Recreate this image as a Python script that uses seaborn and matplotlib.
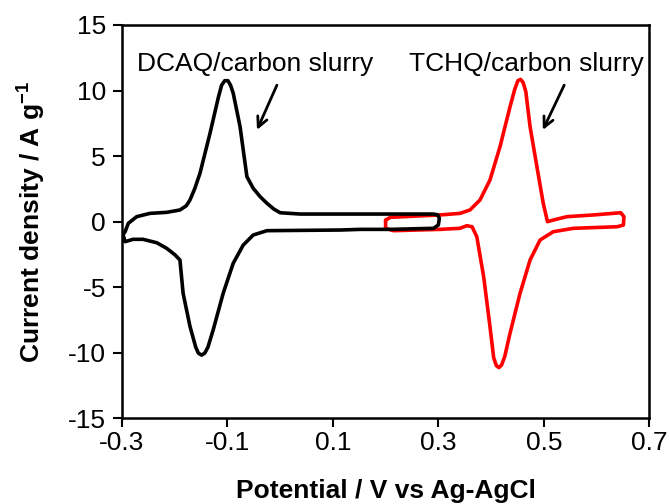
import numpy as np
import pandas as pd
import matplotlib
matplotlib.use('Agg')
import matplotlib.pyplot as plt
import seaborn as sns

# DCAQ/carbon slurry CV loop (potential in V, current density in A/g)
dcaq_v = [-0.298, -0.294, -0.288, -0.272, -0.247, -0.215, -0.19, -0.178, -0.171, -0.162,
          -0.152, -0.133, -0.117, -0.111, -0.105, -0.099, -0.094, -0.089, -0.076, -0.063,
          -0.051, -0.038, -0.025, -0.012, 0.0, 0.038, 0.152, 0.291, 0.299, 0.302,
          0.3, 0.291, 0.209, 0.152, 0.114, -0.025, -0.051, -0.07, -0.089, -0.108,
          -0.127, -0.137, -0.143, -0.149, -0.155, -0.16, -0.171, -0.184, -0.19, -0.199,
          -0.215, -0.234, -0.26, -0.279, -0.294, -0.298]
dcaq_i = [-1.0, -0.78, -0.14, 0.37, 0.62, 0.70, 0.88, 1.2, 1.64, 2.5,
          3.68, 6.73, 9.5, 10.4, 10.75, 10.75, 10.4, 9.8, 7.24, 3.42,
          2.53, 1.9, 1.39, 0.95, 0.67, 0.57, 0.57, 0.57, 0.5, 0.24,
          -0.27, -0.52, -0.6, -0.6, -0.65, -0.7, -1.03, -1.8, -3.19, -5.48,
          -8.28, -9.6, -10.05, -10.2, -10.05, -9.6, -8.0, -5.48, -2.94, -2.56,
          -2.05, -1.62, -1.36, -1.36, -1.54, -1.0]

# TCHQ/carbon slurry CV loop
tchq_v = [0.2, 0.209, 0.303, 0.341, 0.36, 0.379, 0.398, 0.417, 0.436, 0.445,
          0.451, 0.456, 0.461, 0.466, 0.474, 0.487, 0.499, 0.507, 0.518, 0.544,
          0.594, 0.646, 0.652, 0.651, 0.639, 0.556, 0.518, 0.493, 0.474, 0.455,
          0.436, 0.426, 0.42, 0.415, 0.41, 0.405, 0.398, 0.386, 0.373, 0.364,
          0.354, 0.341, 0.303, 0.215, 0.2, 0.2]
tchq_i = [0.1, 0.32, 0.5, 0.62, 0.88, 1.64, 3.17, 5.71, 8.76, 10.1,
          10.75, 10.85, 10.6, 9.9, 7.24, 4.18, 1.39, -0.01, 0.11, 0.37,
          0.5, 0.67, 0.37, -0.27, -0.4, -0.52, -0.78, -1.41, -2.94, -5.48,
          -8.53, -10.3, -10.95, -11.15, -11.0, -10.4, -8.03, -4.21, -1.16, -0.4,
          -0.32, -0.52, -0.6, -0.7, -0.52, 0.1]

x_ticks = [-0.3, -0.1, 0.1, 0.3, 0.5, 0.7]
y_ticks = [-15, -10, -5, 0, 5, 10, 15]

sns.set_style('ticks')
plt.rcParams['font.family'] = ['Liberation Sans', 'DejaVu Sans']
plt.rcParams['axes.unicode_minus'] = False
plt.rcParams['mathtext.fontset'] = 'custom'
plt.rcParams['mathtext.rm'] = 'Liberation Sans'
plt.rcParams['mathtext.bf'] = 'Liberation Sans:bold'
plt.rcParams['text.color'] = 'black'
plt.rcParams['axes.labelcolor'] = 'black'
plt.rcParams['lines.solid_joinstyle'] = 'round'

df = pd.concat([
    pd.DataFrame({'V': tchq_v, 'I': tchq_i, 'sample': 'TCHQ'}),
    pd.DataFrame({'V': dcaq_v, 'I': dcaq_i, 'sample': 'DCAQ'}),
])

fig, ax = plt.subplots(figsize=(6.7, 5.04), dpi=100)
fig.subplots_adjust(left=0.182, right=0.969, bottom=0.1706, top=0.9504)

sns.lineplot(data=df, x='V', y='I', hue='sample', hue_order=['TCHQ', 'DCAQ'],
             palette={'TCHQ': '#ff0000', 'DCAQ': 'black'}, sort=False,
             estimator=None, lw=2.6, legend=False, ax=ax)

ax.set_xlim(-0.3, 0.7)
ax.set_ylim(-15, 15)
ax.set_xticks(x_ticks)
ax.set_xticklabels([f'{t:.1f}' for t in x_ticks])
ax.set_yticks(y_ticks)
ax.tick_params(direction='out', length=6.5, width=1.5, labelsize=19, colors='black')
ax.tick_params(axis='x', pad=3)
ax.tick_params(axis='y', pad=5)
for s in ax.spines.values():
    s.set_linewidth(1.8)
    s.set_color('black')

ax.set_xlabel('Potential / V vs Ag-AgCl', fontsize=19, fontweight='bold', labelpad=17)
ax.set_ylabel(r'Current density / A g$^{\mathbf{-1}}$', fontsize=19, fontweight='bold', labelpad=15)

ax.text(-0.272, 11.5, 'DCAQ/carbon slurry', fontsize=19, va='baseline', ha='left')
ax.text(0.245, 11.5, 'TCHQ/carbon slurry', fontsize=19, va='baseline', ha='left')

ax.annotate('', xy=(-0.046, 6.8), xytext=(-0.004, 10.6),
            arrowprops=dict(arrowstyle='->', lw=2, color='black', mutation_scale=18))
ax.annotate('', xy=(0.496, 6.8), xytext=(0.541, 10.6),
            arrowprops=dict(arrowstyle='->', lw=2, color='black', mutation_scale=18))

fig.savefig('out.png', dpi=100)
